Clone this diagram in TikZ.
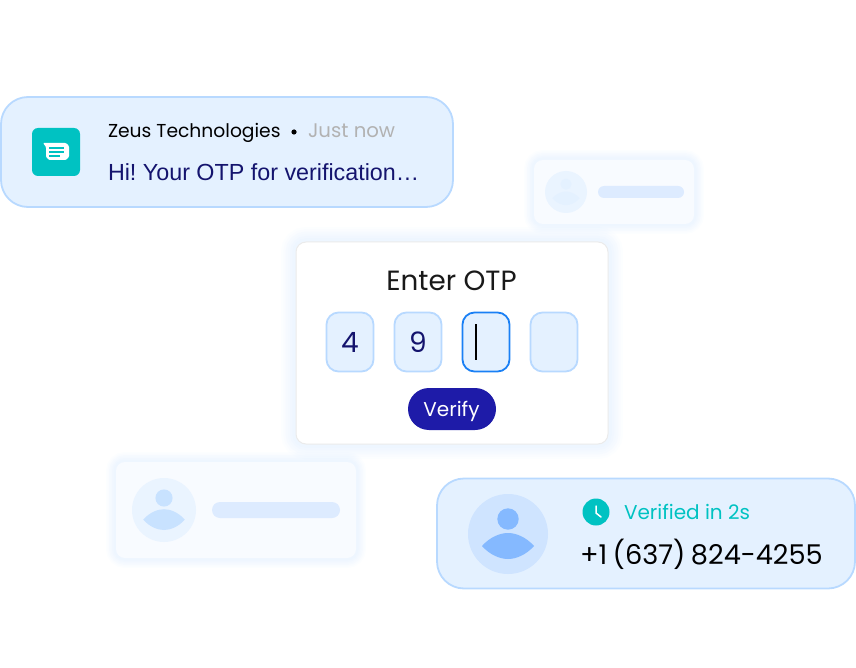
\documentclass[tikz,border=0pt]{standalone}
\usepackage{fontspec}
\setmainfont{Poppins}
\newfontfamily\msgfont{Liberation Sans}
\usepackage{xcolor}
\frenchspacing

\definecolor{cardfill}{HTML}{E4F1FF}
\definecolor{cardline}{HTML}{B8D9FF}
\definecolor{activeline}{HTML}{1A80F5}
\definecolor{tealfill}{HTML}{00C2C2}
\definecolor{navy}{HTML}{14146E}
\definecolor{verifyfill}{HTML}{1E1BA8}
\definecolor{glowblue}{HTML}{BBDAFF}
\definecolor{ghostfill}{HTML}{F8FBFF}
\definecolor{ghostcircle}{HTML}{EAF4FF}
\definecolor{ghostbar}{HTML}{DDEBFF}
\definecolor{ghostfigure}{HTML}{C8E2FF}
\definecolor{avatarcircle}{HTML}{CFE4FF}
\definecolor{avatarfigure}{HTML}{85B9FF}

\tikzset{
    glow/.style={
        preaction={draw=glowblue, draw opacity=.04, line width=#1},
        preaction={draw=glowblue, draw opacity=.04, line width=.85*#1},
        preaction={draw=glowblue, draw opacity=.05, line width=.7*#1},
        preaction={draw=glowblue, draw opacity=.05, line width=.55*#1},
        preaction={draw=glowblue, draw opacity=.05, line width=.4*#1},
        preaction={draw=glowblue, draw opacity=.05, line width=.25*#1}
    },
    panel/.style={rectangle, inner sep=0pt, outer sep=0pt},
    bluecard/.style={panel, draw=cardline, fill=cardfill, line width=1.8pt, rounded corners=27pt, minimum width=#1, minimum height=110pt},
    ghostcard/.style={panel, fill=ghostfill, rounded corners=9pt, glow=20pt},
    digitbox/.style={panel, draw=cardline, fill=cardfill, line width=1.8pt, rounded corners=12pt, minimum width=47pt, minimum height=59pt},
    bar/.style={panel, fill=ghostbar, rounded corners=6pt},
    textlabel/.style={inner sep=0pt, outer sep=0pt, anchor=base west},
    % head and shoulders, around the middle of a round avatar
    pics/avatar/.style 2 args={
        code={
            \fill[#1] (0,0) circle (40);
            \fill[#2] (0,-15) circle (10.7);
            \fill[#2] (-26,12) .. controls (-18,3) and (-8,-1) .. (0,-1) .. controls (8,-1) and (18,3) .. (26,12)
                .. controls (18,21) and (8,25) .. (0,25) .. controls (-8,25) and (-18,21) .. (-26,12) -- cycle;
        }
    }
}

\begin{document}
\begin{tikzpicture}[x=1pt, y=-1pt]
            \useasboundingbox (0,0) rectangle (856,668);

            % Faded cards
            \node [ghostcard, minimum width=160pt, minimum height=64pt] (topghost) at (614,192) {};
            \pic [scale=.525] at (566,192) {avatar={ghostcircle}{cardfill}};
            \node [bar, minimum width=86pt, minimum height=12pt] (topbar) at (641,192) {};
            \node [ghostcard, minimum width=240pt, minimum height=96pt] (leftghost) at (236,510) {};
            \pic [scale=.8] at (164,510) {avatar={ghostcircle}{ghostfigure}};
            \node [bar, minimum width=128pt, minimum height=16pt, rounded corners=8pt] (leftbar) at (276,510) {};

            % Notification
            \node [bluecard=452pt] (notify) at (227,152) {};
            \node [panel, fill=tealfill, rounded corners=6pt, minimum width=48pt, minimum height=48pt] (msgicon) at (56,152) {};
            \fill [white, rounded corners=1pt] (43,143) -- (66,143) -- (69,146) -- (69,157) -- (66,160) -- (49,160) -- (46,157) -- (46,147) -- cycle;
            \foreach \y/\e in {148/64, 152/64, 156/60}
                \draw [tealfill, line width=1.5pt] (49,\y) -- (\e,\y);
            \node [textlabel, font=\fontsize{18.7}{23}\selectfont] (sender) at (108,138) {Zeus Technologies};
            \fill (294,132) circle (2.6);
            \node [textlabel, font=\fontsize{19.7}{23}\selectfont, text=black!30] (when) at (308,138) {Just now};
            \node [textlabel, font=\msgfont\fontsize{23.3}{28}\selectfont, text=navy] (message) at (108,181) {Hi! Your OTP for verification…};

            % OTP form
            \node [panel, draw=black!8, fill=white, line width=1pt, rounded corners=10pt, minimum width=312pt, minimum height=202pt, glow=30pt] (otpcard) at (452,343) {};
            \node [font=\fontsize{27.8}{32}\selectfont, text=black!90, inner sep=0pt] (title) at (451.5,281) {Enter OTP};
            \node [digitbox] (first) at (350,342) {};
            \node [digitbox] (second) at (418,342) {};
            \node [digitbox, draw=activeline] (third) at (486,342) {};
            \node [digitbox] (fourth) at (554,342) {};
            \node [font=\fontsize{28}{32}\selectfont, text=navy] at (first) {4};
            \node [font=\fontsize{28}{32}\selectfont, text=navy] at (second) {9};
            \draw [line width=1.3pt] (476,324) -- (476,360);
            \node [panel, fill=verifyfill, rounded corners=21pt, minimum width=88pt, minimum height=42pt] (verify) at (452,409) {};
            \node [textlabel, anchor=base, text=white, font=\fontsize{20}{24}\selectfont] (verifytext) at (451.5,416) {Verify};

            % Verified number
            \node [bluecard=418pt] (result) at (646,533.5) {};
            \pic at (508,534) {avatar={avatarcircle}{avatarfigure}};
            \node [circle, fill=tealfill, minimum size=27pt, inner sep=0pt] (clock) at (596,512) {};
            \draw [white, line width=1.5pt, line cap=round, line join=round] (596,506) -- (596,513) -- (601,517);
            \node [textlabel, font=\fontsize{20}{23}\selectfont, text=tealfill] (status) at (624,519) {Verified in 2s};
            \node [textlabel, font=\fontsize{27.2}{30}\selectfont] (phone) at (580,564) {\spaceskip=.2em +1 (637) 824-4255};
\end{tikzpicture}
\end{document}
